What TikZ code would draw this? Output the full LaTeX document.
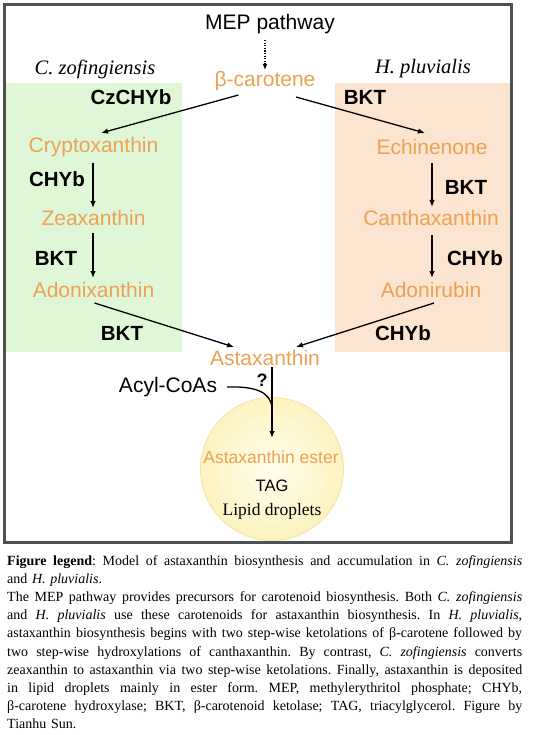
\documentclass[tikz,border=0pt]{standalone}
\usepackage{fontspec}
\setmainfont{Liberation Serif}
\setsansfont{Liberation Sans}
\usetikzlibrary{arrows.meta,calc}
\definecolor{carot}{RGB}{236,161,84}
\definecolor{czgreen}{RGB}{224,247,215}
\definecolor{hppeach}{RGB}{252,229,208}
\definecolor{framegray}{RGB}{80,80,80}
\definecolor{ldin}{RGB}{255,253,236}
\definecolor{ldout}{RGB}{253,243,192}
\definecolor{ldedge}{RGB}{244,228,160}
\newcommand{\capline}[1]{\leavevmode\hbox to 515pt{\frenchspacing\spaceskip=0pt\xspaceskip=0pt #1}}
\tikzset{
  pig/.style={font=\sffamily\fontsize{21}{24}\selectfont, text=carot, inner sep=0pt},
  enz/.style={font=\sffamily\bfseries\fontsize{20.5}{24}\selectfont, inner sep=0pt},
  species/.style={font=\rmfamily\itshape\fontsize{20.5}{24}\selectfont, inner sep=0pt},
  plain/.style={font=\sffamily\fontsize{21}{24}\selectfont, inner sep=0pt},
  arr/.style={line width=1.3pt, -{Latex[length=7pt,width=5.5pt]}},
  dotarr/.style={line width=1.2pt, dash pattern=on 1.3pt off 1.3pt, -{Latex[length=6pt,width=5pt]}},
}
\begin{document}
\begin{tikzpicture}[x=1pt,y=-1pt]
\useasboundingbox (0,0) rectangle (532,735);
\fill[white] (0,0) rectangle (532,735);
% species panels
\fill[czgreen] (6,83) rectangle (182,352);
\fill[hppeach] (335,83) rectangle (510,352);
% frame
\draw[framegray, line width=3pt] (4.5,4.5) rectangle (511.5,542.5);
% lipid droplet
\shade[inner color=ldin, outer color=ldout] (272,469) circle (71.5);
\draw[ldedge, line width=0.8pt] (272,469) circle (71.5);

% nodes
\node[plain] (mep) at (270,24) {MEP pathway};
\node[pig] (beta) at (265,81) {β-carotene};
\node[species] (czof) at (95,69) {C. zofingiensis};
\node[species] (hpluv) at (423,69) {H. pluvialis};
\node[enz] (czchyb) at (131,97) {CzCHYb};
\node[enz] (bkt1) at (365,97) {BKT};
\node[pig] (crypto) at (93.5,147) {Cryptoxanthin};
\node[pig] (echin) at (432,147) {Echinenone};
\node[enz] (chyb1) at (57,179) {CHYb};
\node[enz] (bkt2) at (466,187) {BKT};
\node[pig] (zea) at (93.5,218) {Zeaxanthin};
\node[pig] (cantha) at (431,218) {Canthaxanthin};
\node[enz] (bkt3) at (56,258) {BKT};
\node[enz] (chyb2) at (475,258) {CHYb};
\node[pig] (adonix) at (93.5,290) {Adonixanthin};
\node[pig] (adonir) at (431,290) {Adonirubin};
\node[enz] (bkt4) at (122,333) {BKT};
\node[enz] (chyb3) at (403,333) {CHYb};
\node[pig] (asta) at (265,358) {Astaxanthin};
\node[enz, font=\sffamily\bfseries\fontsize{18}{20}\selectfont] (q) at (262,380) {?};
\node[plain] (acyl) at (168,387) {Acyl-CoAs};
\node[pig, font=\sffamily\fontsize{17.5}{20}\selectfont] (ester) at (271,457) {Astaxanthin ester};
\node[plain, font=\sffamily\fontsize{16.5}{20}\selectfont] (tag) at (272,486) {TAG};
\node[inner sep=0pt, font=\rmfamily\fontsize{17.5}{20}\selectfont] (lip) at (272,511) {Lipid droplets};

% connectors
\draw[dotarr] ($(mep)+(-5,16)$) -- ($(beta)+(0,-11)$);
\draw[arr] ($(beta)+(-26.5,14)$) -- ($(crypto)+(7.5,-14)$);
\draw[arr] ($(beta)+(31,16)$) -- ($(echin)+(-7,-14)$);
\draw[arr] ($(crypto)+(-0.5,16)$) -- ($(zea)+(-0.5,-10)$);
\draw[arr] ($(echin)+(0,16)$) -- ($(cantha)+(1,-11)$);
\draw[arr] ($(zea)+(-0.5,15)$) -- ($(adonix)+(-0.5,-12)$);
\draw[arr] ($(cantha)+(1,17)$) -- ($(adonir)+(1,-12)$);
\draw[arr] ($(adonix)+(1,13)$) -- ($(asta)+(-31,-11)$);
\draw[arr] ($(adonir)+(3,13)$) -- ($(asta)+(31,-11)$);
\draw[arr] ($(asta)+(7,9)$) -- ($(ester)+(1,-19)$);
\coordinate (join) at ($(asta)+(7,50)$);
\draw[line width=1.3pt] ($(acyl)+(59,0)$) .. controls ($(acyl)+(87,-1)$) and ($(acyl)+(103,5)$) .. (join);

% caption
\node[anchor=north west, inner sep=0pt, text width=515pt, align=left,
      font={\rmfamily\fontsize{14}{18.2}\selectfont}] (cap) at (7,555) {%
\capline{\textbf{Figure legend}: Model of astaxanthin biosynthesis and accumulation in \textit{C. zofingiensis}}\\
and \textit{H. pluvialis}.\\
\capline{The MEP pathway provides precursors for carotenoid biosynthesis. Both \textit{C. zofingiensis}}\\
\capline{and \textit{H. pluvialis} use these carotenoids for astaxanthin biosynthesis. In \textit{H. pluvialis},}\\
\capline{astaxanthin biosynthesis begins with two step-wise ketolations of β-carotene followed by}\\
\capline{two step-wise hydroxylations of canthaxanthin. By contrast, \textit{C. zofingiensis} converts}\\
\capline{zeaxanthin to astaxanthin via two step-wise ketolations. Finally, astaxanthin is deposited}\\
\capline{in lipid droplets mainly in ester form. MEP, methylerythritol phosphate; CHYb,}\\
\capline{β-carotene hydroxylase; BKT, β-carotenoid ketolase; TAG, triacylglycerol. Figure by}\\
Tianhu Sun.};
\end{tikzpicture}
\end{document}
